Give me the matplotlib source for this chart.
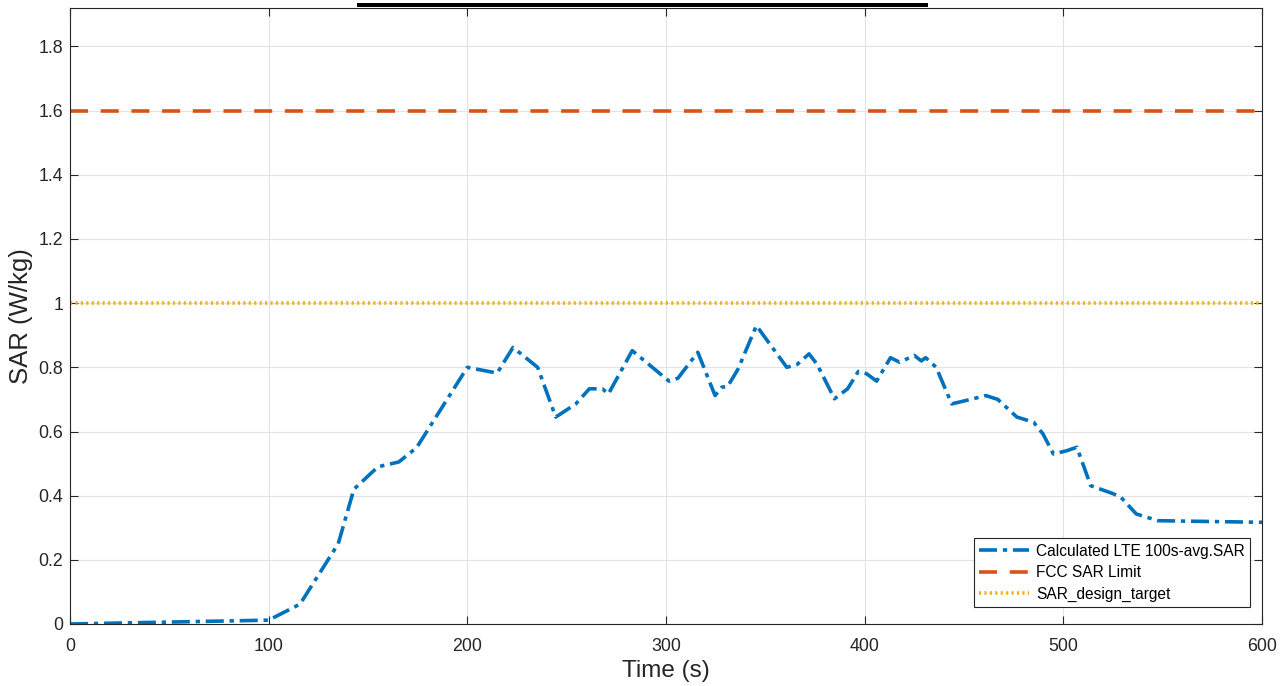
import matplotlib
matplotlib.use("Agg")
import matplotlib.pyplot as plt
from matplotlib.patches import Rectangle

time_s = [0, 50, 100, 115.8, 135, 142.9, 155, 165.5, 174.5, 200, 215, 223, 235.4,
          244.5, 254.6, 261.4, 268, 271, 283, 301.5, 306, 316, 324.7, 328, 331,
          336.3, 345.5, 360.8, 366, 372, 376, 384.8, 391.4, 396.8, 401, 406, 413,
          417.6, 425, 428.5, 430.7, 436, 443.8, 452.6, 461, 467, 476.6, 485, 489.7,
          495, 501.7, 506.8, 513.8, 524.7, 529, 536.7, 547.6, 600]
sar_avg = [0.0, 0.006, 0.012, 0.062, 0.25, 0.42, 0.49, 0.505, 0.55, 0.80, 0.782, 0.862, 0.80,
           0.645, 0.686, 0.733, 0.733, 0.717, 0.852, 0.757, 0.766, 0.847, 0.712, 0.738, 0.74,
           0.795, 0.93, 0.80, 0.809, 0.842, 0.81, 0.702, 0.733, 0.787, 0.78, 0.757, 0.83,
           0.816, 0.837, 0.82, 0.83, 0.80, 0.686, 0.699, 0.712, 0.70, 0.645, 0.629, 0.593,
           0.53, 0.54, 0.551, 0.431, 0.407, 0.395, 0.343, 0.322, 0.317]
fcc_limit = 1.6
design_target = 1.0
x_ticks = [0, 100, 200, 300, 400, 500, 600]
y_ticks = [0, 0.2, 0.4, 0.6, 0.8, 1.0, 1.2, 1.4, 1.6, 1.8]
y_tick_labels = ["0", "0.2", "0.4", "0.6", "0.8", "1", "1.2", "1.4", "1.6", "1.8"]

plt.rcParams['font.family'] = ['Liberation Sans', 'DejaVu Sans']

fig = plt.figure(figsize=(12.86, 6.86), dpi=100)
ax = fig.add_axes([70/1286, 1 - 624/686, (1262-70)/1286, (624-8)/686])

ax.plot(time_s, sar_avg, color='#0072BD', lw=2.6, linestyle=(0, (5, 1.6, 1.2, 1.6)),
        label='Calculated LTE 100s-avg.SAR')
ax.axhline(fcc_limit, color='#D95319', lw=2.6, linestyle=(0, (5, 3.5)), label='FCC SAR Limit')
ax.axhline(design_target, color='#EDB120', lw=2.6, linestyle=(0, (0.6, 0.9)),
           label='SAR_design_target')

ax.set_xlim(0, 600)
ax.set_ylim(0, 1.92)
ax.set_xticks(x_ticks)
ax.set_xticklabels([str(v) for v in x_ticks])
ax.set_yticks(y_ticks)
ax.set_yticklabels(y_tick_labels)
ax.tick_params(direction='in', top=True, right=True, length=6, width=0.8,
               labelsize=12.8, colors='#262626')
ax.tick_params(axis='x', pad=10)
ax.tick_params(axis='y', pad=5)
ax.grid(True, color='#e3e3e3', lw=0.8)
ax.set_axisbelow(True)
for s in ax.spines.values():
    s.set_color('#262626')
    s.set_linewidth(0.8)

ax.set_xlabel('Time (s)', fontsize=17.5, color='#262626', labelpad=4)
ax.set_ylabel('SAR (W/kg)', fontsize=18.5, color='#262626', labelpad=4)

leg = ax.legend(loc='lower right', bbox_to_anchor=(0.9925, 0.022), fontsize=11.2,
                frameon=True, fancybox=False, edgecolor='#262626', framealpha=1,
                handlelength=3.2, borderpad=0.35, labelspacing=0.42, handletextpad=0.45,
                borderaxespad=0.2)
leg.get_frame().set_linewidth(0.8)

fig.add_artist(Rectangle((357/1286, 1 - 6.5/686), (928-357)/1286, 4/686,
                         transform=fig.transFigure, color='black', lw=0))

fig.savefig('out.png', dpi=100)
